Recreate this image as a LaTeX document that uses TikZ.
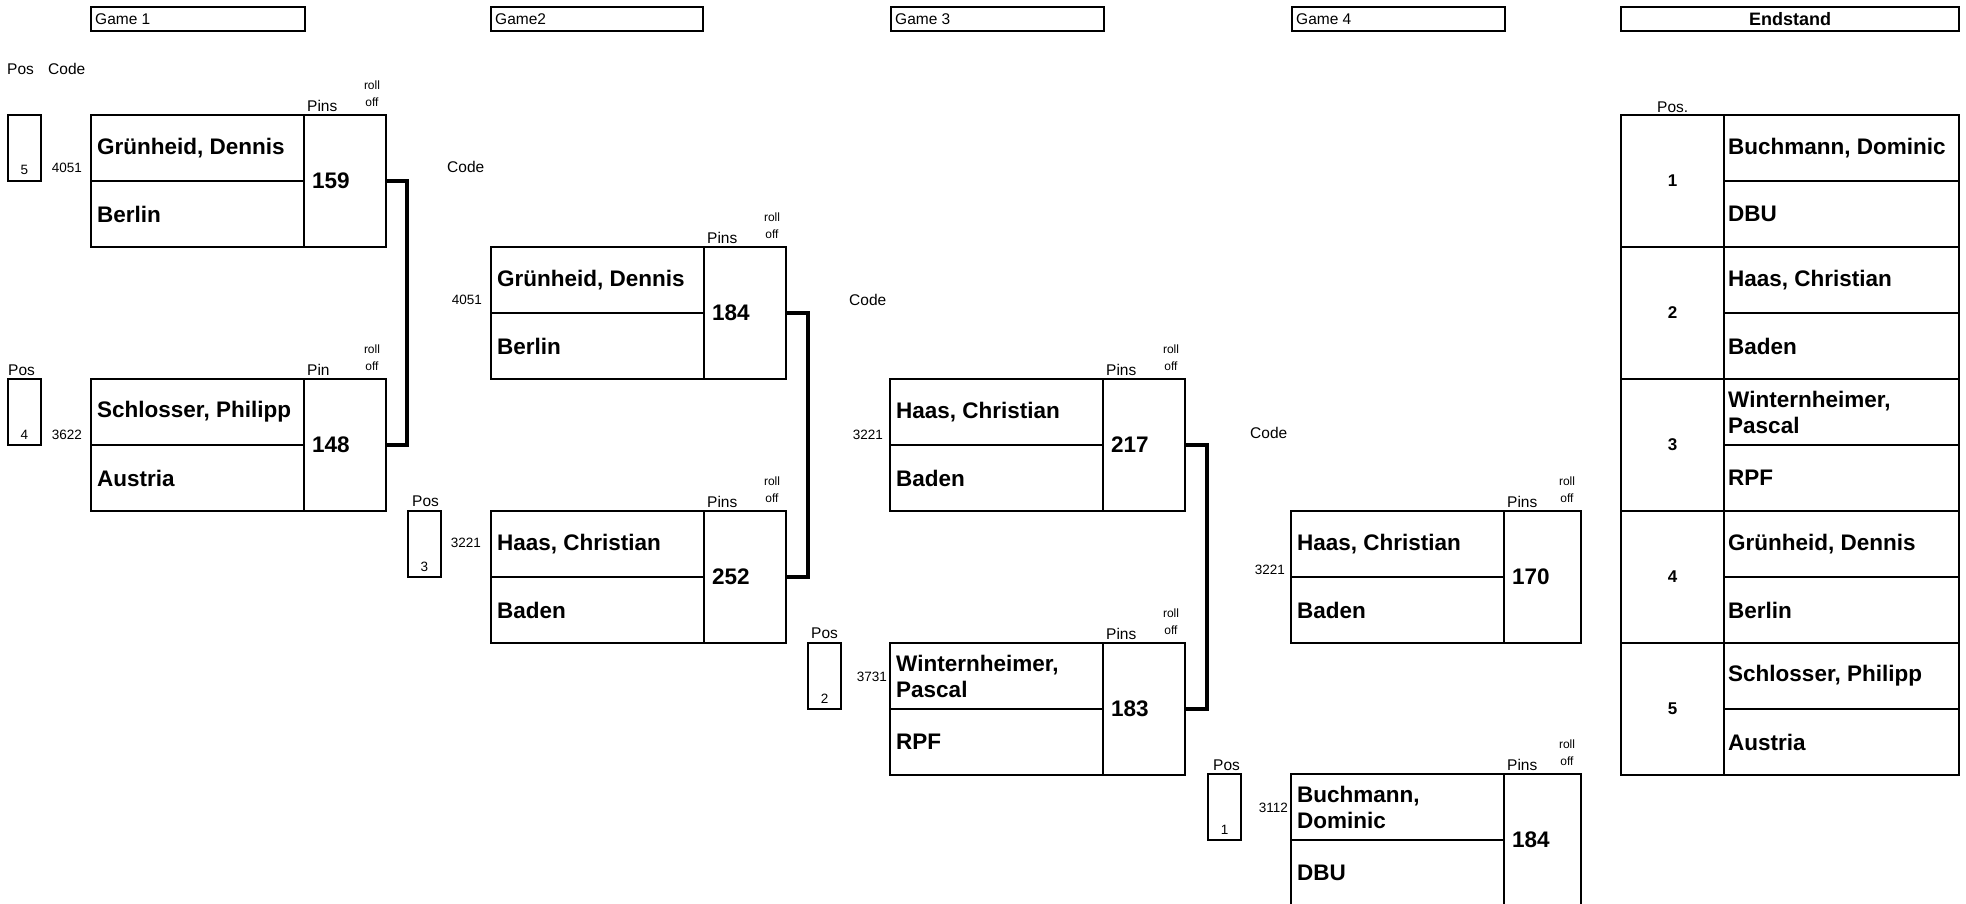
\documentclass[tikz,border=0pt]{standalone}
\usepackage{fontspec}
\setmainfont{Liberation Sans}
\tikzset{
  cellbox/.style={draw, line width=1.8pt, inner sep=0pt, outer sep=0pt, anchor=north west},
  nametxt/.style={font=\bfseries\fontsize{22.5}{26}\selectfont, anchor=west, align=left, inner sep=0pt},
  numtxt/.style={font=\bfseries\fontsize{22.5}{26}\selectfont, anchor=west, inner sep=0pt},
  postxt/.style={font=\bfseries\fontsize{17}{20}\selectfont, inner sep=0pt},
  lbl/.style={font=\fontsize{15.5}{18}\selectfont, inner sep=0pt},
  codetxt/.style={font=\fontsize{13.5}{15}\selectfont, inner sep=0pt, anchor=east},
  posnum/.style={font=\fontsize{13.5}{15}\selectfont, inner sep=0pt, anchor=base},
  rolltxt/.style={font=\fontsize{12}{17}\selectfont, inner sep=0pt, align=center, anchor=south},
  link/.style={line width=4pt},
  hdrbox/.style={draw, line width=1.8pt, inner sep=0pt, outer sep=0pt, anchor=north west, minimum height=24pt}
}
% id, x, y, name, club, pins, pins label, pins cell width
\newcommand\playerbox[8]{%
  \node[cellbox, minimum width=213pt, minimum height=66pt] (#1n) at (#2,#3) {};
  \node[cellbox, minimum width=213pt, minimum height=66pt] (#1c) at (#2,#3+66) {};
  \node[cellbox, minimum width=#8pt, minimum height=132pt] (#1p) at (#2+213,#3) {};
  \node[nametxt] (#1nt) at ([xshift=6pt]#1n.west) {#4};
  \node[nametxt] (#1ct) at ([xshift=6pt]#1c.west) {#5};
  \node[numtxt] (#1pt) at ([xshift=8pt]#1p.west) {#6};
  \node[lbl, anchor=south west] (#1pl) at ([xshift=3pt,yshift=3pt]#1p.north west) {#7};
  \node[rolltxt] (#1rl) at ([xshift=-14pt,yshift=8pt]#1p.north east) {roll\\off};
}
% id, x, y, number
\newcommand\posbox{}
\renewcommand\posbox[4]{%
  \node[cellbox, minimum width=33pt, minimum height=66pt] (#1) at (#2,#3) {};
  \node[posnum] (#1t) at ([yshift=6pt]#1.south) {#4};
}
% id, y, pos, name, club
\newcommand\standrow[5]{%
  \node[cellbox, minimum width=103pt, minimum height=132pt] (#1p) at (1621,#2) {};
  \node[cellbox, minimum width=235pt, minimum height=66pt] (#1n) at (1724,#2) {};
  \node[cellbox, minimum width=235pt, minimum height=66pt] (#1c) at (1724,#2+66) {};
  \node[postxt] (#1pt) at (#1p.center) {#3};
  \node[nametxt] (#1nt) at ([xshift=4pt]#1n.west) {#4};
  \node[nametxt] (#1ct) at ([xshift=4pt]#1c.west) {#5};
}
\begin{document}
\begin{tikzpicture}[x=1pt, y=-1pt]
\useasboundingbox (0,0) rectangle (1966,904);

% headers
\node[hdrbox, minimum width=214pt] (h1) at (91,7) {};
\node[lbl, anchor=west] at ([xshift=4pt]h1.west) {Game 1};
\node[hdrbox, minimum width=212pt] (h2) at (491,7) {};
\node[lbl, anchor=west] at ([xshift=4pt]h2.west) {Game2};
\node[hdrbox, minimum width=213pt] (h3) at (891,7) {};
\node[lbl, anchor=west] at ([xshift=4pt]h3.west) {Game 3};
\node[hdrbox, minimum width=213pt] (h4) at (1292,7) {};
\node[lbl, anchor=west] at ([xshift=4pt]h4.west) {Game 4};
\node[hdrbox, minimum width=338pt] (h5) at (1621,7) {};
\node[font=\bfseries\fontsize{18}{20}\selectfont, inner sep=0pt] at (h5.center) {Endstand};

% Game 1
\node[lbl, anchor=west] (pl1) at (7,69) {Pos};
\node[lbl, anchor=west] (cl1) at (48,69) {Code};
\posbox{pa}{8}{115}{5}
\node[codetxt] (ca) at (82,168) {4051};
\playerbox{ga}{91}{115}{Grünheid, Dennis}{Berlin}{159}{Pins}{82}

\node[lbl, anchor=west] (pl2) at (8,370) {Pos};
\posbox{pb}{8}{379}{4}
\node[codetxt] (cb) at (82,435) {3622};
\playerbox{gb}{91}{379}{Schlosser, Philipp}{Austria}{148}{Pin}{82}

\draw[link] (gap.east) -- ++(21,0) |- (gbp.east);

% Game 2
\node[lbl, anchor=west] (cl2) at (447,167) {Code};
\node[codetxt] (cc) at (482,300) {4051};
\playerbox{gc}{491}{247}{Grünheid, Dennis}{Berlin}{184}{Pins}{82}

\node[lbl, anchor=west] (pl3) at (412,501) {Pos};
\posbox{pc}{408}{511}{3}
\node[codetxt] (cd) at (481,543) {3221};
\playerbox{gd}{491}{511}{Haas, Christian}{Baden}{252}{Pins}{82}

\draw[link] (gcp.east) -- ++(22,0) |- (gdp.east);

% Game 3
\node[lbl, anchor=west] (cl3) at (849,300) {Code};
\node[codetxt] (ce) at (883,435) {3221};
\playerbox{ge}{890}{379}{Haas, Christian}{Baden}{217}{Pins}{82}

\node[lbl, anchor=west] (pl4) at (811,633) {Pos};
\posbox{pd}{808}{643}{2}
\node[codetxt] (cf) at (887,677) {3731};
\playerbox{gf}{890}{643}{Winternheimer,\\Pascal}{RPF}{183}{Pins}{82}

\draw[link] (gep.east) -- ++(22,0) |- (gfp.east);

% Game 4
\node[lbl, anchor=west] (cl4) at (1250,433) {Code};
\node[codetxt] (cg) at (1285,570) {3221};
\playerbox{gg}{1291}{511}{Haas, Christian}{Baden}{170}{Pins}{77}

\node[lbl, anchor=west] (pl5) at (1213,765) {Pos};
\posbox{pe}{1208}{774}{1}
\node[codetxt] (ch) at (1288,808) {3112};
\playerbox{gh}{1291}{774}{Buchmann,\\Dominic}{DBU}{184}{Pins}{77}

% Endstand
\node[lbl, anchor=west] (pst) at (1657,107) {Pos.};
\standrow{sa}{115}{1}{Buchmann, Dominic}{DBU}
\standrow{sb}{247}{2}{Haas, Christian}{Baden}
\standrow{sc}{379}{3}{Winternheimer,\\Pascal}{RPF}
\standrow{sd}{511}{4}{Grünheid, Dennis}{Berlin}
\standrow{se}{643}{5}{Schlosser, Philipp}{Austria}
\end{tikzpicture}
\end{document}
